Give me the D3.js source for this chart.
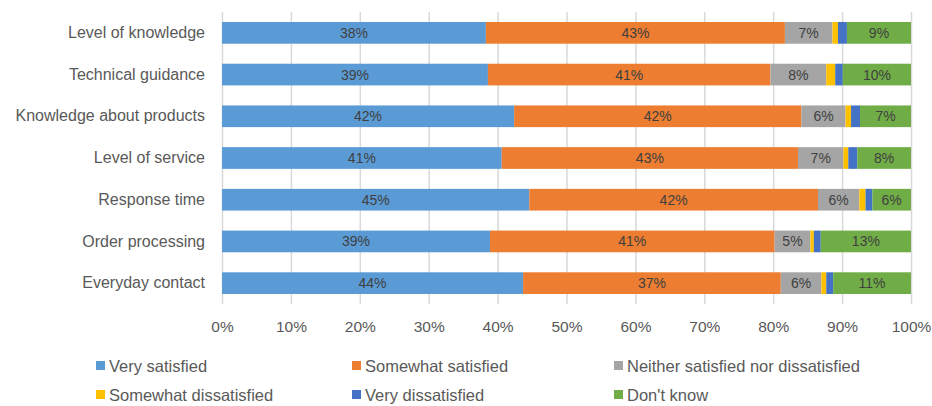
<!DOCTYPE html>
<html lang="en">
<head>
  <meta charset="UTF-8">
  <title>Satisfaction</title>
  <script src="https://d3js.org/d3.v7.min.js"></script>
  <style>
    body { margin: 0; background: #fff; }
    text { font-family: "Liberation Sans", Arial, sans-serif; }
  </style>
</head>
<body>
  <div id="chart"></div>
  <script>
    const categories = ["Level of knowledge", "Technical guidance", "Knowledge about products",
      "Level of service", "Response time", "Order processing", "Everyday contact"];
    const seriesNames = ["Very satisfied", "Somewhat satisfied", "Neither satisfied nor dissatisfied",
      "Somewhat dissatisfied", "Very dissatisfied", "Don't know"];
    const colors = ["#5b9bd5", "#ed7d31", "#a5a5a5", "#ffc000", "#4472c4", "#70ad47"];

    // one array per series, in category order (percent)
    const verySatisfied      = [38.3, 38.6, 42.4, 40.6, 44.6, 38.9, 43.7];
    const somewhatSatisfied  = [43.4, 41.0, 41.7, 43.0, 41.9, 41.3, 37.4];
    const neither            = [6.9, 8.1, 6.4, 6.6, 6.0, 5.2, 5.9];
    const somewhatDissat     = [0.8, 1.3, 0.8, 0.7, 0.9, 0.5, 0.7];
    const veryDissat         = [1.3, 1.1, 1.3, 1.3, 1.0, 1.0, 1.0];
    const dontKnow           = [9.3, 9.9, 7.4, 7.8, 5.6, 13.1, 11.3];
    const ticks = [0, 10, 20, 30, 40, 50, 60, 70, 80, 90, 100];

    const seriesValues = [verySatisfied, somewhatSatisfied, neither, somewhatDissat, veryDissat, dontKnow];

    const width = 932, height = 406;
    const margin = { top: 12, right: 21, bottom: 102, left: 222 };

    const svg = d3.select("#chart").append("svg")
      .attr("width", width)
      .attr("height", height);

    const xScale = d3.scaleLinear()
      .domain([0, 100])
      .range([margin.left, width - margin.right]);

    const yScale = d3.scaleBand()
      .domain(categories)
      .range([margin.top, height - margin.bottom])
      .paddingInner(0.48)
      .paddingOuter(0.24);

    const plotBottom = height - margin.bottom;

    // gridlines
    svg.append("g")
      .attr("transform", `translate(0, ${plotBottom})`)
      .call(d3.axisBottom(xScale).tickValues(ticks).tickSize(-(plotBottom - margin.top)).tickFormat(""))
      .call(g => g.select(".domain").remove())
      .call(g => g.selectAll("line").attr("stroke", "#d9d9d9").attr("stroke-width", 1.5));

    // stacked segments
    const rows = categories.map((c, i) => {
      let x0 = 0;
      return seriesValues.map((s, k) => {
        const seg = { cat: c, k: k, x0: x0, v: s[i] };
        x0 += s[i];
        return seg;
      });
    }).flat();

    svg.selectAll("rect.seg")
      .data(rows)
      .enter()
      .append("rect")
      .attr("class", "seg")
      .attr("x", d => xScale(d.x0))
      .attr("y", d => yScale(d.cat))
      .attr("width", d => xScale(d.x0 + d.v) - xScale(d.x0))
      .attr("height", yScale.bandwidth())
      .attr("fill", d => colors[d.k]);

    svg.selectAll("text.val")
      .data(rows.filter(d => d.v >= 4))
      .enter()
      .append("text")
      .attr("class", "val")
      .attr("x", d => xScale(d.x0 + d.v / 2))
      .attr("y", d => yScale(d.cat) + yScale.bandwidth() / 2)
      .attr("dy", "0.36em")
      .attr("text-anchor", "middle")
      .attr("font-size", "14px")
      .attr("fill", "#404040")
      .text(d => Math.round(d.v) + "%");

    // x axis labels
    svg.append("g")
      .attr("transform", `translate(0, ${plotBottom})`)
      .call(d3.axisBottom(xScale).tickValues(ticks).tickSize(0).tickPadding(17).tickFormat(d => d + "%"))
      .call(g => g.select(".domain").remove())
      .call(g => g.selectAll("text").attr("font-size", "15.5px").attr("fill", "#595959")
        .attr("font-family", "Liberation Sans, Arial, sans-serif"));

    // category labels
    svg.append("g")
      .attr("transform", `translate(${margin.left}, 0)`)
      .call(d3.axisLeft(yScale).tickSize(0).tickPadding(17))
      .call(g => g.select(".domain").remove())
      .call(g => g.selectAll("text").attr("font-size", "16px").attr("fill", "#595959")
        .attr("font-family", "Liberation Sans, Arial, sans-serif"));

    // legend
    const legendX = [96, 352, 614];
    const legendY = [366, 395];
    const legend = svg.selectAll("g.legend")
      .data(seriesNames)
      .enter()
      .append("g")
      .attr("class", "legend")
      .attr("transform", (d, i) => `translate(${legendX[i % 3]}, ${legendY[Math.floor(i / 3)]})`);

    legend.append("rect")
      .attr("x", 0)
      .attr("y", -5)
      .attr("width", 9)
      .attr("height", 9)
      .attr("fill", (d, i) => colors[i]);

    legend.append("text")
      .attr("x", 13)
      .attr("dy", "0.36em")
      .attr("font-size", "16.5px")
      .attr("fill", "#595959")
      .text(d => d);
  </script>
</body>
</html>
